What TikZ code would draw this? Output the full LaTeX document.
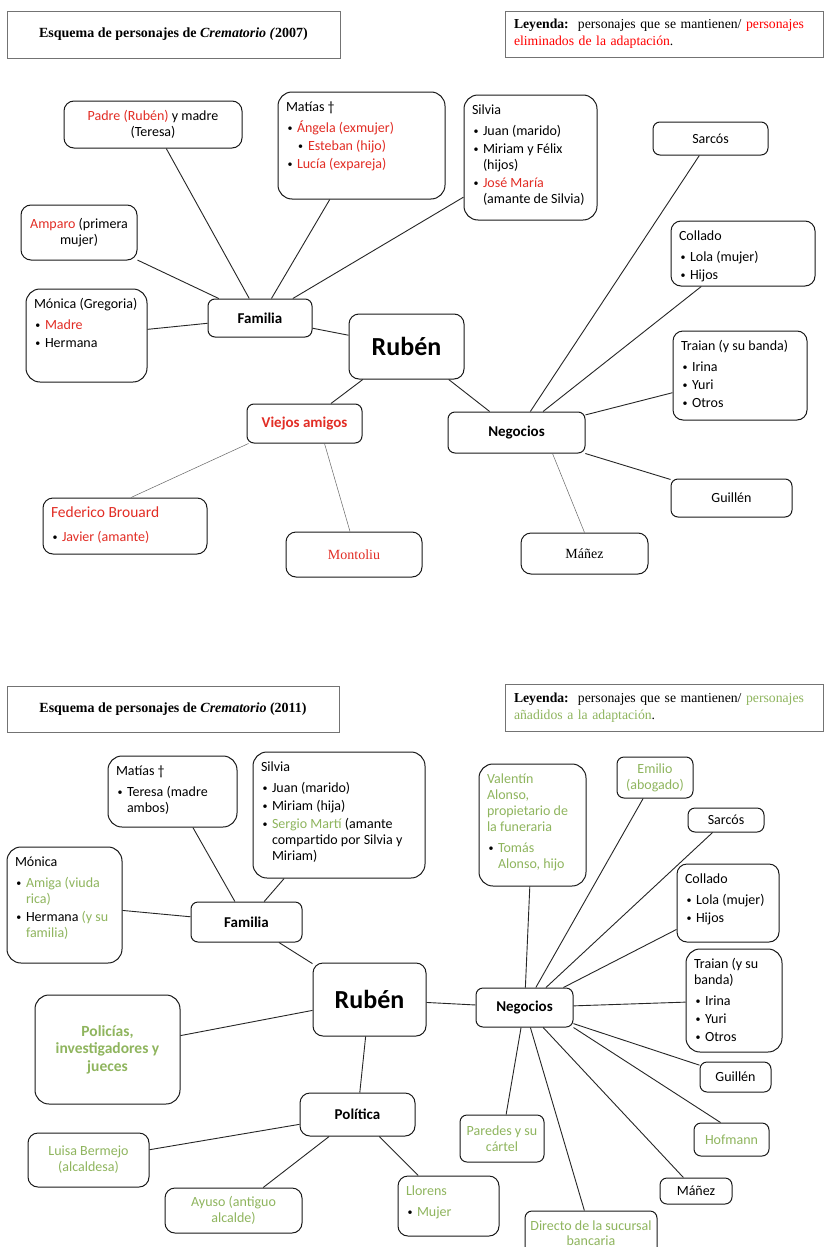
\documentclass[tikz,border=0pt]{standalone}
\usepackage{fontspec}
\setmainfont{Carlito}
\newfontfamily\serifa{Liberation Serif}

\definecolor{rojo}{RGB}{226,45,37}
\definecolor{rojoley}{RGB}{255,0,0}
\definecolor{verde}{RGB}{143,181,94}

\newcommand{\rojo}[1]{\textcolor{rojo}{#1}}
\newcommand{\verde}[1]{\textcolor{verde}{#1}}
\newcommand{\vineta}{\raisebox{0.8pt}{\fontsize{10}{10}\selectfont•}}
\newcommand{\punto}{\par\hangindent=11pt\hangafter=1\noindent\makebox[11pt][l]{\hspace{1.5pt}\vineta}}
\newcommand{\subpunto}{\par\hangindent=22pt\hangafter=1\noindent\makebox[22pt][l]{\hspace{12pt}\vineta}}
\newcommand{\cab}{\par\vspace{3pt}}
\newcommand{\lista}[3]{\parbox[c][\dimexpr#2pt-8pt\relax][t]{\dimexpr#1pt-2pt\relax}{\raggedright\leftskip=7pt\parskip=2pt\rule{0pt}{15.5pt}#3}}

\tikzset{
  caja/.style={draw=black!90, line width=1pt, rounded corners=7pt, fill=white, align=center,
    font=\fontsize{14}{16}\selectfont},
  media/.style={rounded corners=10pt},
  grande/.style={rounded corners=14pt},
  cajalista/.style={caja, inner sep=0pt},
  tam/.style 2 args={minimum width=#1pt, minimum height=#2pt},
  negrita/.style={font=\fontsize{15}{18}\selectfont\bfseries},
  nombre/.style={font=\fontsize{26}{30}\selectfont\bfseries},
  marco/.style={draw=black!55, line width=0.8pt, font=\serifa\fontsize{14}{17}\selectfont},
  leyenda/.style={marco, font=\serifa\fontsize{13.7}{17}\selectfont, text width=300pt, align=left, inner sep=0pt},
  linea/.style={draw=black!85, line width=0.9pt},
  fina/.style={draw=black!60, line width=0.5pt}
}

\begin{document}
\begin{tikzpicture}[x=1pt, y=-1pt]
  \path[use as bounding box, fill=white] (0,0) rectangle (823,1247);

  % Crematorio (2007)
  \node[marco, tam={333}{47}] (titulo1) at (173.5,34.5) {\bfseries Esquema de personajes de \textit{Crematorio (}2007)};
  \node[leyenda, tam={318}{46}] (leyenda1) at (664,34)
    {\textbf{Leyenda:}\ \ personajes que se mantienen/ \textcolor{rojoley}{personajes}\\\textcolor{rojoley}{eliminados de la adaptación}.};

  \node[caja, media, tam={178}{47}] (padres1) at (153,124.5) {\rojo{Padre (Rubén)} y madre\\(Teresa)};
  \node[cajalista, grande, tam={167}{107}] (matias1) at (361.5,145.5) {\lista{167}{107}{Matías †\cab
    \punto\rojo{Ángela (exmujer)}
    \subpunto\rojo{Esteban (hijo)}
    \punto\rojo{Lucía (expareja)}}};
  \node[cajalista, grande, tam={133}{125}] (silvia1) at (530.5,157.5) {\lista{133}{125}{Silvia\cab
    \punto Juan (marido)
    \punto Miriam y Félix\newline(hijos)
    \punto\rojo{José María}\newline(amante de Silvia)}};
  \node[caja, tam={115}{33}] (sarcos1) at (710.5,138.5) {Sarcós};
  \node[caja, media, tam={116}{55}] (amparo1) at (79,232.5) {\rojo{Amparo} (primera\\mujer)};
  \node[cajalista, media, tam={144}{65}] (collado1) at (743,253.5) {\lista{144}{65}{Collado\cab
    \punto Lola (mujer)
    \punto Hijos}};
  \node[cajalista, grande, tam={121}{93}] (monica1) at (86.5,335.5) {\lista{121}{93}{Mónica (Gregoria)\cab
    \punto\rojo{Madre}
    \punto Hermana}};
  \node[caja, tam={104}{38}, negrita] (familia1) at (260,318) {Familia};
  \node[caja, media, tam={115}{65}, nombre] (ruben1) at (406.5,346.5) {Rubén};
  \node[cajalista, media, tam={134}{89}] (traian1) at (740,375.5) {\lista{134}{89}{Traian (y su banda)\cab
    \punto Irina
    \punto Yuri
    \punto Otros}};
  \node[caja, tam={115}{39}, negrita, text=rojo] (viejos1) at (304.5,423.5) {Viejos amigos};
  \node[caja, tam={137}{41}, negrita] (negocios1) at (516.5,432.5) {Negocios};
  \node[caja, tam={121}{38}] (guillen1) at (731.5,498) {Guillén};
  \node[cajalista, media, tam={164}{56}] (federico1) at (125,526) {\lista{164}{56}{\rojo{\fontsize{15.5}{16}\selectfont Federico Brouard}\cab\vspace{3pt}
    \punto\rojo{Javier (amante)}}};
  \node[caja, media, tam={136}{45}, text=rojo, font=\serifa\fontsize{14}{16}\selectfont] (montoliu1) at (354,554.5) {Montoliu};
  \node[caja, media, tam={127}{41}, font=\serifa\fontsize{14}{16}\selectfont] (manez1) at (584.5,553.5) {Máñez};

  \draw[linea] (padres1) -- (familia1);
  \draw[linea] (amparo1) -- (familia1);
  \draw[linea] (matias1) -- (familia1);
  \draw[linea] (silvia1) -- (familia1);
  \draw[linea] (monica1) -- (familia1);
  \draw[linea] (familia1) -- (ruben1);
  \draw[linea] (ruben1) -- (viejos1);
  \draw[linea] (ruben1) -- (negocios1);
  \draw[linea] (negocios1) -- (sarcos1);
  \draw[linea] (negocios1) -- (collado1);
  \draw[linea] (negocios1) -- (traian1);
  \draw[linea] (negocios1) -- (guillen1);
  \draw[fina] ([xshift=2pt]viejos1.south west) -- ([xshift=6pt]federico1.north);
  \draw[fina] ([xshift=20pt]viejos1.south) -- ([xshift=-4pt]montoliu1.north);
  \draw[fina] ([xshift=36pt]negocios1.south) -- (manez1.north);

  % Crematorio (2011)
  \node[marco, tam={332}{46}] (titulo2) at (173,709) {\bfseries Esquema de personajes de \textit{Crematorio} (2011)};
  \node[leyenda, tam={318}{47}] (leyenda2) at (664,707.5)
    {\textbf{Leyenda:}\ \ personajes que se mantienen/ \textcolor{verde}{personajes}\\\textcolor{verde}{añadidos a la adaptación}.};

  \node[cajalista, grande, tam={129}{71}] (matias2) at (172.5,791.5) {\lista{129}{71}{Matías †\cab
    \punto Teresa (madre\newline ambos)}};
  \node[cajalista, grande, tam={172}{126}] (silvia2) at (339,815) {\lista{172}{126}{Silvia\cab
    \punto Juan (marido)
    \punto Miriam (hija)
    \punto\verde{Sergio Martí} (amante\newline compartido por Silvia y\newline Miriam)}};
  \node[cajalista, grande, tam={115}{116}] (monica2) at (64.5,905) {\lista{115}{116}{Mónica\cab
    \punto\verde{Amiga (viuda\newline rica)}
    \punto Hermana \verde{(y su\newline familia)}}};
  \node[caja, tam={111}{40}, negrita] (familia2) at (246.5,922) {Familia};
  \node[cajalista, grande, tam={107}{122}] (valentin2) at (532.5,825) {\lista{107}{122}{\verde{Valentín\newline Alonso,\newline propietario de\newline la funeraria}\cab
    \punto\verde{Tomás\newline Alonso, hijo}}};
  \node[caja, tam={76}{41}, text=verde] (emilio2) at (655,777.5) {Emilio\\(abogado)};
  \node[caja, tam={76}{24}] (sarcos2) at (726,820) {Sarcós};
  \node[cajalista, media, tam={102}{78}] (collado2) at (728,903) {\lista{102}{78}{Collado\cab
    \punto Lola (mujer)
    \punto Hijos}};
  \node[cajalista, grande, tam={96}{103}] (traian2) at (734,1000.5) {\lista{96}{103}{Traian (y su\newline banda)\cab
    \punto Irina
    \punto Yuri
    \punto Otros}};
  \node[caja, media, tam={113}{73}, nombre] (ruben2) at (369.5,999.5) {Rubén};
  \node[caja, tam={97}{39}, negrita] (negocios2) at (524.5,1007.5) {Negocios};
  \node[caja, grande, tam={145}{109}, text=verde, font=\fontsize{15.5}{17.5}\selectfont\bfseries] (policias2) at (107.5,1049.5) {Policías,\\investigadores y\\jueces};
  \node[caja, tam={71}{30}] (guillen2) at (735.5,1077) {Guillén};
  \node[caja, media, tam={115}{43}, negrita] (politica2) at (357.5,1114.5) {Política};
  \node[caja, tam={75}{33}, text=verde] (hofmann2) at (731.5,1139.5) {Hofmann};
  \node[caja, tam={84}{47}, text=verde] (paredes2) at (502,1138.5) {Paredes y su\\cártel};
  \node[caja, media, tam={121}{54}, text=verde] (luisa2) at (88.5,1160) {Luisa Bermejo\\(alcaldesa)};
  \node[caja, tam={72}{26}] (manez2) at (696,1191) {Máñez};
  \node[caja, media, tam={137}{45}, text=verde] (ayuso2) at (233.5,1210.5) {Ayuso (antiguo\\alcalde)};
  \node[cajalista, media, tam={101}{60}] (llorens2) at (448.5,1206) {\lista{101}{60}{\verde{Llorens}\cab
    \punto\verde{Mujer}}};
  \node[caja, tam={132}{44}, text=verde, font=\fontsize{14}{15}\selectfont] (directo2) at (591,1233) {Directo de la sucursal\\bancaria};

  \draw[linea] (matias2) -- (familia2);
  \draw[linea] (silvia2) -- (familia2);
  \draw[linea] (monica2) -- (familia2);
  \draw[linea] (familia2) -- (ruben2);
  \draw[linea] (policias2) -- (ruben2);
  \draw[linea] (ruben2) -- (politica2);
  \draw[linea] (ruben2) -- (negocios2);
  \draw[linea] (politica2) -- (luisa2);
  \draw[linea] (politica2) -- (ayuso2);
  \draw[linea] (politica2) -- (llorens2);
  \draw[linea] (negocios2) -- (valentin2);
  \draw[linea] (negocios2) -- (emilio2);
  \draw[linea] (negocios2) -- (sarcos2);
  \draw[linea] (negocios2) -- (collado2);
  \draw[linea] (negocios2) -- (traian2);
  \draw[linea] (negocios2) -- (guillen2);
  \draw[linea] (negocios2.south east) -- ([xshift=-11pt]hofmann2.north);
  \draw[linea] (negocios2) -- (manez2);
  \draw[linea] (negocios2) -- (directo2);
  \draw[linea] (negocios2) -- (paredes2);
\end{tikzpicture}
\end{document}
